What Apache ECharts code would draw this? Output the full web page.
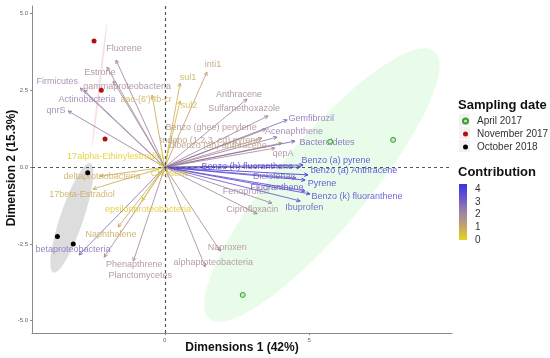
<!DOCTYPE html>
<html><head><meta charset="utf-8">
<script src="https://cdn.jsdelivr.net/npm/echarts@6/dist/echarts.min.js"></script>
<style>html,body{margin:0;padding:0;background:#fff}#c{width:550px;height:358px}</style>
</head><body><div id="c"></div>
<script>
// ---- variables (arrows) ----
const varNames = ["Fluorene","Estrone","gammaproteobacteria","Firmicutes","Actinobacteria","qnrS","aac-(6')-Ib-cr","sul1","sul2","inti1",
  "Anthracene","Sulfamethoxazole","Benzo (ghee) perylene","Gemfibrozil","Acenaphthene","Indeno (1,2,3, cd) pyrene","dibenzo (ah) anthracene","Bacteroidetes","qepA","Benzo (a) pyrene",
  "Benzo (h) fluoranthene","benzo (a) Anthracene","Diclofenac","Pyrene","Fluoranthene","Benzo (k) fluoranthene","Ibuprofen","Fenoprofen","Ciprofloxacin","Naproxen",
  "alphaproteobacteria","Phenapthrene","Planctomycetes","betaproteobacteria","Naphthalene","epsilonproteobacteria","17beta-Estradiol","deltaproteobacteria","17alpha-Ethinylestradiol","Chrysene"];
const varDim1 = [-1.69,-2.0,-1.79,-2.93,-2.8,-3.35,-0.44,0.53,0.53,1.46,
  2.85,3.58,3.51,4.24,3.89,3.37,4.06,4.51,3.82,4.79,
  4.69,4.96,4.55,4.86,4.86,5.03,4.69,3.71,3.2,1.92,
  1.4,-2.1,-1.09,-2.97,-1.62,-0.79,-2.49,-2.24,-0.23,0.11];
const varDim2 = [3.49,3.26,2.81,2.58,2.51,1.83,2.35,2.74,2.16,3.1,
  2.22,1.67,1.24,1.54,0.98,0.95,0.79,0.85,0.62,0.07,
  0.0,-0.25,-0.35,-0.42,-0.77,-0.87,-1.1,-1.17,-1.52,-2.73,
  -3.25,-2.93,-3.06,-2.86,-1.95,-1.1,-0.71,-0.29,0.14,-0.09];
const varContrib = [2.1,2.0,2.0,2.2,2.2,2.3,0.9,0.8,0.6,1.2,
  2.0,2.0,1.7,2.7,2.3,1.5,1.4,2.9,1.9,3.9,
  3.8,4.1,2.9,3.9,3.5,3.7,3.4,2.1,1.9,1.8,
  1.8,1.9,1.9,2.7,0.9,0.2,0.9,0.9,0.1,0.3];
// label placement (pixels, relative to arrow tip)
const labelDx = [8,-7,14,-23,3,-12,-6,8,9,6, -8,-24,-55,24,17,-52,-64,32,8,33, -53,46,-22,17,-28,47,4,-26,-5,7, 8,30,7,-6,-7,6,-11,2,-43,2];
const labelDy = [-12,5,6,-6,9,0,4,-6,5,-7, -5,-7,-2,-1,-6,2,3,1,5,-5, -1,-4,-1,3,-3,3,7,-12,-4,-4, -4,7,14,-5,7,9,6,0,-6,4];

// ---- individuals ----
const aprilDim1 = [7.91, 2.7, 5.73];
const aprilDim2 = [0.89, -4.16, 0.83];
const novDim1 = [-2.45, -2.2, -2.07];
const novDim2 = [4.11, 2.51, 0.92];
const octDim1 = [-2.67, -3.72, -3.17];
const octDim2 = [-0.18, -2.26, -2.5];

// concentration ellipses: centre and two semi-axis vectors (data units)
const ellipseGroups = ["April 2017","October 2018","November 2017"];
const ellipseCentre = [[5.44,-0.58],[-3.22,-1.65],[-2.26,2.69]];
const ellipseAxisA = [[3.9,4.36],[0.64,1.78],[0.26,2.04]];
const ellipseAxisB = [[1.19,-0.94],[0.38,-0.12],[0.035,-0.005]];
const ellipseFill = ['rgba(170,245,170,0.26)','rgba(150,150,150,0.32)','rgba(235,150,150,0.3)'];

const yTicks = [-5, -2.5, 0, 2.5, 5];
const xTicks = [0, 5];
const contribTicks = [0,1,2,3,4];
const contribColors = ['#e6d31c','#c2a468','#9e82aa','#6d55c8','#3434e4'];
const contribMax = 4.4;

const chart = echarts.init(document.getElementById('c'), null, {renderer:'canvas'});
const FONT = 'Liberation Sans, Arial, sans-serif';

const arrowData = varNames.map((n,i)=>[varDim1[i], varDim2[i], varContrib[i], i]);
const ellData = ellipseGroups.map((g,i)=>[ellipseCentre[i][0],ellipseCentre[i][1],ellipseAxisA[i][0],ellipseAxisA[i][1],ellipseAxisB[i][0],ellipseAxisB[i][1],i]);

const barTop = 184, barH = 56;
const graphics = [
  {type:'text', x:12, y:168, rotation:Math.PI/2, style:{text:'Dimension 2 (15.3%)', font:'bold 12px '+FONT, fill:'#111', align:'center', verticalAlign:'middle'}},
  {type:'text', x:242, y:348, style:{text:'Dimensions 1 (42%)', font:'bold 12px '+FONT, fill:'#111', align:'center', verticalAlign:'middle'}},
  {type:'text', x:458, y:105, style:{text:'Sampling date', font:'bold 13px '+FONT, fill:'#111', verticalAlign:'middle'}},
  {type:'text', x:458, y:172, style:{text:'Contribution', font:'bold 13px '+FONT, fill:'#111', verticalAlign:'middle'}},
  {type:'rect', shape:{x:459, y:barTop, width:8, height:barH}, style:{fill:new echarts.graphic.LinearGradient(0,0,0,1, contribColors.map((c,i)=>({offset:1-(i/(contribColors.length-1)), color:c})).reverse())}},
];
contribTicks.forEach(t=>{
  const yy = barTop + barH - (t/contribMax)*barH;
  graphics.push({type:'text', x:475, y:yy, style:{text:String(t), font:'10px '+FONT, fill:'#333', verticalAlign:'middle'}});
});
[120,133,146].forEach(yy=>{
  graphics.push({type:'rect', shape:{x:459, y:yy-6, width:11, height:12}, style:{fill:'#f2f2f2'}, z:-1});
});

const option = {
  animation:false,
  grid:{left:32, right:98, top:6, bottom:25},
  xAxis:{type:'value', min:-4.6, max:9.95,
    axisLine:{show:true, onZero:false, lineStyle:{color:'#8a8a8a', width:1}},
    axisTick:{show:true, customValues:xTicks, length:2, lineStyle:{color:'#8a8a8a'}},
    axisLabel:{customValues:xTicks, fontSize:6, color:'#666', margin:4, fontFamily:FONT},
    splitLine:{show:false}},
  yAxis:{type:'value', min:-5.4, max:5.25,
    axisLine:{show:true, onZero:false, lineStyle:{color:'#8a8a8a', width:1}},
    axisTick:{show:true, customValues:yTicks, length:2, lineStyle:{color:'#8a8a8a'}},
    axisLabel:{customValues:yTicks, fontSize:6, color:'#666', margin:4, fontFamily:FONT, formatter:v=>v.toFixed(1)},
    splitLine:{show:false}},
  legend:{left:462, top:116, orient:'vertical', itemWidth:5, itemHeight:5, itemGap:3, padding:0,
    textStyle:{fontSize:10, color:'#333', fontFamily:FONT, lineHeight:10, padding:[0,0,0,4]},
    data:['April 2017','November 2017','October 2018']},
  visualMap:{show:false, type:'continuous', min:0, max:contribMax, dimension:2, seriesIndex:1, inRange:{color:contribColors}},
  graphic:graphics,
  series:[
    {type:'custom', name:'ellipses', silent:true, z:1, data:ellData, clip:true,
      renderItem:(params, api)=>{
        const cx=api.value(0), cy=api.value(1), ax=api.value(2), ay=api.value(3), bx=api.value(4), by=api.value(5), k=api.value(6);
        const pts=[];
        for(let j=0;j<72;j++){const t=j/72*Math.PI*2; pts.push(api.coord([cx+ax*Math.cos(t)+bx*Math.sin(t), cy+ay*Math.cos(t)+by*Math.sin(t)]));}
        return {type:'polygon', shape:{points:pts}, style:{fill:ellipseFill[k], stroke:null}};
      }},
    {type:'custom', name:'variables', silent:true, z:3, data:arrowData,
      renderItem:(params, api)=>{
        const o=api.coord([0,0]); const p=api.coord([api.value(0), api.value(1)]);
        const color=api.visual('color'); const i=api.value(3);
        const ang=Math.atan2(p[1]-o[1], p[0]-o[0]); const L=4, w=0.45;
        const h1=[p[0]-L*Math.cos(ang-w), p[1]-L*Math.sin(ang-w)];
        const h2=[p[0]-L*Math.cos(ang+w), p[1]-L*Math.sin(ang+w)];
        return {type:'group', children:[
          {type:'line', shape:{x1:o[0],y1:o[1],x2:p[0],y2:p[1]}, style:{stroke:color, lineWidth:1, opacity:0.85}},
          {type:'polyline', shape:{points:[h1,p,h2]}, style:{stroke:color, fill:null, lineWidth:1}},
          {type:'text', x:p[0]+labelDx[i], y:p[1]+labelDy[i], style:{text:varNames[i], fill:color, opacity:0.85, font:'9px '+FONT, align:'center', verticalAlign:'middle'}}
        ]};
      }},
    {type:'scatter', name:'April 2017', z:4, symbolSize:5, data:aprilDim1.map((v,i)=>[v,aprilDim2[i]]),
      itemStyle:{color:'#b9f0b0', borderColor:'#3a9a3a', borderWidth:1, opacity:1},
      markLine:{silent:true, symbol:'none', label:{show:false}, lineStyle:{color:'#555', type:[3,3], width:1.2}, data:[{xAxis:0},{yAxis:0}]}},
    {type:'scatter', name:'November 2017', z:4, symbolSize:5, data:novDim1.map((v,i)=>[v,novDim2[i]]), itemStyle:{color:'#b01010', opacity:1}},
    {type:'scatter', name:'October 2018', z:4, symbolSize:5, data:octDim1.map((v,i)=>[v,octDim2[i]]), itemStyle:{color:'#000', opacity:1}}
  ]
};
chart.setOption(option);
</script></body></html>
